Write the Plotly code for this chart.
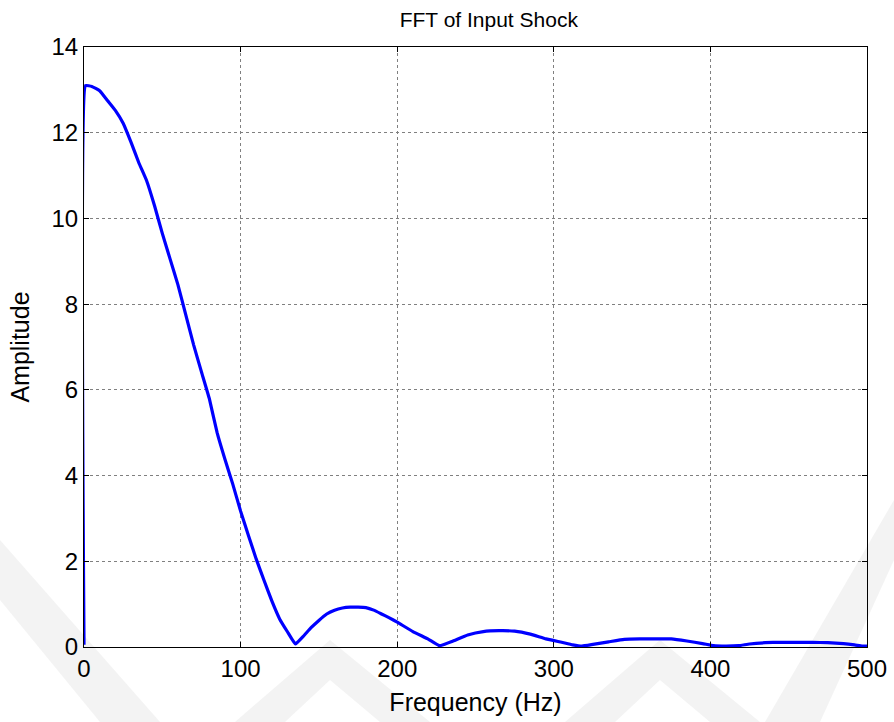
import plotly.graph_objects as go

# Single-sided amplitude spectrum of the input shock
freq_hz = [0, 1, 5, 10, 15, 20, 25, 30, 35, 40, 45, 50, 55, 60, 65, 70, 75, 80,
           85, 90, 95, 100, 105, 110, 115, 120, 125, 130, 135, 140, 145, 150,
           155, 160, 165, 170, 175, 180, 185, 190, 195, 200, 210, 220, 227,
           235, 245, 255, 265, 275, 285, 295, 305, 312, 318, 325, 335, 345,
           355, 365, 375, 385, 395, 402, 410, 418, 425, 435, 445, 455, 465,
           475, 485, 492, 497, 500]
amplitude = [0.05, 13.1, 13.08, 12.98, 12.75, 12.52, 12.22, 11.78, 11.3, 10.88,
             10.3, 9.65, 9.05, 8.45, 7.75, 7.05, 6.42, 5.8, 5.0, 4.38, 3.8,
             3.17, 2.6, 2.05, 1.55, 1.07, 0.65, 0.35, 0.07, 0.25, 0.45, 0.62,
             0.77, 0.86, 0.91, 0.93, 0.93, 0.92, 0.86, 0.77, 0.68, 0.58, 0.36,
             0.18, 0.03, 0.13, 0.28, 0.36, 0.38, 0.37, 0.30, 0.19, 0.11, 0.05,
             0.02, 0.06, 0.12, 0.18, 0.19, 0.19, 0.19, 0.14, 0.08, 0.03, 0.02,
             0.03, 0.07, 0.10, 0.11, 0.11, 0.11, 0.10, 0.08, 0.05, 0.02, 0.02]

x_ticks = [0, 100, 200, 300, 400, 500]
y_ticks = [0, 2, 4, 6, 8, 10, 12, 14]

FONT = "Liberation Sans, Arial, sans-serif"
W, H = 894, 722
ML, MR, MT, MB = 84, 27, 47, 75

fig = go.Figure()
fig.add_trace(go.Scatter(
    x=freq_hz, y=amplitude, mode="lines",
    line=dict(color="#0000ff", width=3.2, shape="spline", smoothing=0.3),
    hoverinfo="skip", showlegend=False,
))

axis_common = dict(
    showline=True, linecolor="black", linewidth=1.2, mirror="allticks",
    ticks="inside", ticklen=5, tickcolor="black", tickwidth=1.2,
    showgrid=True, gridcolor="#808080", gridwidth=1, griddash="dot",
    zeroline=False, automargin=False,
    tickfont=dict(family=FONT, size=24, color="black"),
)

fig.update_xaxes(range=[0, 500], tickvals=x_ticks,
                 title=dict(text="Frequency (Hz)", standoff=12,
                            font=dict(family=FONT, size=25, color="black")),
                 **axis_common)
fig.update_yaxes(range=[0, 14], tickvals=y_ticks,
                 title=dict(text="Amplitude", standoff=14,
                            font=dict(family=FONT, size=25, color="black")),
                 **axis_common)


def to_paper(pts):
    """Convert page pixel points to paper coordinates of the plot area."""
    pw, ph = W - ML - MR, H - MT - MB
    out = []
    for px, py in pts:
        out.append(((px - ML) / pw, (H - MB - py) / ph))
    return out


def path_of(pts):
    pp = to_paper(pts)
    return "M " + " L ".join(f"{a:.4f},{b:.4f}" for a, b in pp) + " Z"


# faint diagonal watermark bands behind the white axes area
wm = "rgba(228,228,228,0.45)"
bands = [
    [(0, 540), (0, 600), (100, 722), (160, 722)],
    [(235, 722), (330, 640), (430, 722), (380, 722), (330, 680), (285, 722)],
    [(565, 722), (660, 640), (760, 722), (710, 722), (660, 680), (615, 722)],
    [(894, 500), (894, 560), (820, 722), (765, 722)],
]
for b in bands:
    fig.add_shape(type="path", path=path_of(b), xref="paper", yref="paper",
                  fillcolor=wm, line=dict(width=0), layer="below")

fig.update_layout(
    width=W, height=H,
    margin=dict(l=ML, r=MR, t=MT, b=MB, autoexpand=False),
    paper_bgcolor="white", plot_bgcolor="white",
    title=dict(text="FFT of Input Shock", xref="paper", x=0.517,
               xanchor="center", y=1 - 20 / H, yanchor="middle",
               font=dict(family=FONT, size=21, color="black")),
)

fig.write_html("out.html")
